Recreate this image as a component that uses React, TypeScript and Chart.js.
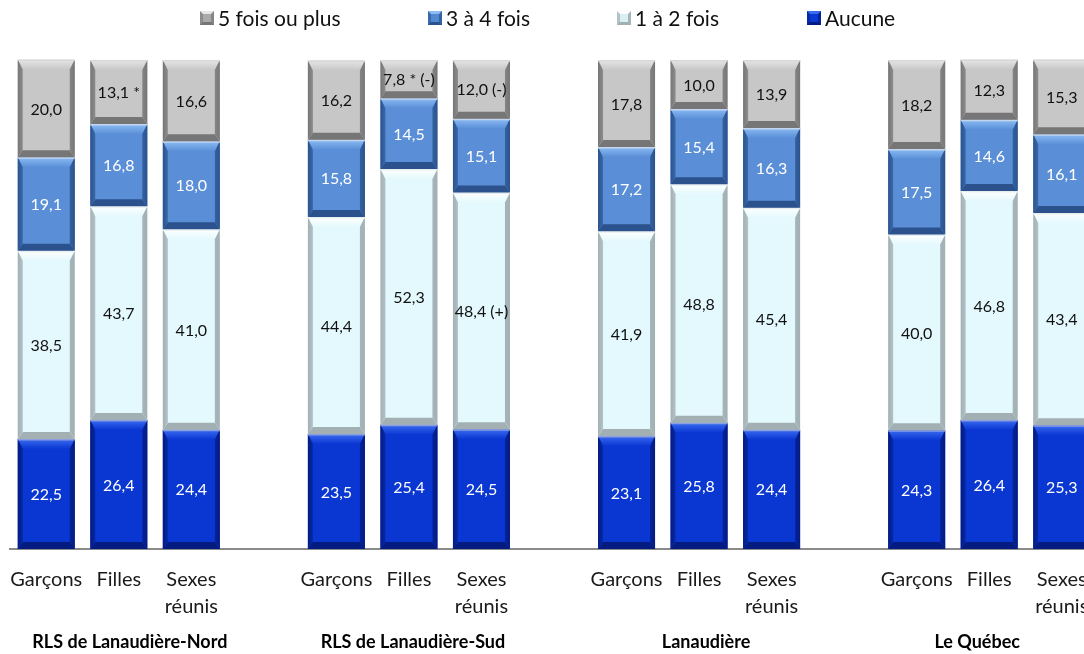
import React, { useEffect, useRef } from 'react';
import { Chart, registerables } from 'chart.js';
Chart.register(...registerables);

// ---------- DATA ----------
const groups = ['RLS de Lanaudière-Nord', 'RLS de Lanaudière-Sud', 'Lanaudière', 'Le Québec'];
const sexes: string[][] = [['Garçons'], ['Filles'], ['Sexes', 'réunis']];

const seriesNames = ['Aucune', '1 à 2 fois', '3 à 4 fois', '5 fois ou plus'];
const aucune = [22.5, 26.4, 24.4, 23.5, 25.4, 24.5, 23.1, 25.8, 24.4, 24.3, 26.4, 25.3];
const unADeux = [38.5, 43.7, 41.0, 44.4, 52.3, 48.4, 41.9, 48.8, 45.4, 40.0, 46.8, 43.4];
const troisAQuatre = [19.1, 16.8, 18.0, 15.8, 14.5, 15.1, 17.2, 15.4, 16.3, 17.5, 14.6, 16.1];
const cinqPlus = [20.0, 13.1, 16.6, 16.2, 7.8, 12.0, 17.8, 10.0, 13.9, 18.2, 12.3, 15.3];

const aucuneNotes = ['', '', '', '', '', '', '', '', '', '', '', ''];
const unADeuxNotes = ['', '', '', '', '', ' (+)', '', '', '', '', '', ''];
const troisAQuatreNotes = ['', '', '', '', '', '', '', '', '', '', '', ''];
const cinqPlusNotes = ['', ' *', '', '', ' * (-)', ' (-)', '', '', '', '', '', ''];

// ---------- STYLES ----------
const seriesStyles = [
  { face: '#0a36d2', top: '#3a6cf0', left: '#0629a6', right: '#05239a', bottom: '#041b80', edge: '#8a9ee0', text: '#ffffff', legend: '#0b37d3' },
  { face: '#e4f9fd', top: '#ffffff', left: '#b3c2c6', right: '#a6b5b9', bottom: '#a2b0b4', edge: '#e8eef0', text: '#111111', legend: '#d8eff3' },
  { face: '#5a8fd8', top: '#8cbcf4', left: '#3a69aa', right: '#3562a0', bottom: '#2b528c', edge: '#c4d6ee', text: '#ffffff', legend: '#5088d2' },
  { face: '#c7c7c7', top: '#e6e6e6', left: '#8c8c8c', right: '#858585', bottom: '#767676', edge: '#d6d9dc', text: '#111111', legend: '#a9a9a9' },
];
const legendLefts = [200, 428, 617, 807];
const groupLabelShift = [11, 4, 7, -12];
const FONT = 'Lato';

function buildSlots<T>(values: T[], gap: T): T[] {
  const out: T[] = [];
  groups.forEach((_, g) => {
    sexes.forEach((__, s) => out.push(values[g * sexes.length + s]));
    if (g < groups.length - 1) out.push(gap);
  });
  return out;
}

const fmt = (v: number) => v.toFixed(1).replace('.', ',');

function poly(ctx: CanvasRenderingContext2D, pts: number[][], color: any) {
  ctx.beginPath();
  ctx.moveTo(pts[0][0], pts[0][1]);
  for (let i = 1; i < pts.length; i++) ctx.lineTo(pts[i][0], pts[i][1]);
  ctx.closePath();
  ctx.fillStyle = color;
  ctx.fill();
}

export default function App() {
  const ref = useRef<HTMLCanvasElement | null>(null);

  useEffect(() => {
    document.body.style.margin = '0';
    document.body.style.overflow = 'hidden';
    document.documentElement.style.overflow = 'hidden';
    const canvas = ref.current;
    if (!canvas) return;

    const seriesValues = [aucune, unADeux, troisAQuatre, cinqPlus];
    const seriesNotes = [aucuneNotes, unADeuxNotes, troisAQuatreNotes, cinqPlusNotes];

    const tickLabels = buildSlots<string[] | string>(groups.flatMap(() => sexes), '');
    const groupSlotLabels = buildSlots<string>(groups.flatMap((g) => sexes.map((_, s) => (s === 1 ? g : ''))), '');
    const groupSlotShift = buildSlots<number>(groups.flatMap((_, gi) => sexes.map(() => groupLabelShift[gi])), 0);

    const datasets = seriesValues.map((vals, i) => ({
      label: seriesNames[i],
      data: buildSlots<number | null>(vals, null),
      backgroundColor: seriesStyles[i].face,
      borderWidth: 0,
      barPercentage: 0.786,
      categoryPercentage: 1,
    }));
    const notesSlots = seriesNotes.map((n) => buildSlots<string>(n, ''));

    const bevelPlugin = {
      id: 'bevelLabels',
      afterDatasetsDraw(chart: any) {
        const ctx: CanvasRenderingContext2D = chart.ctx;
        ctx.save();
        chart.data.datasets.forEach((ds: any, di: number) => {
          const meta = chart.getDatasetMeta(di);
          const st = seriesStyles[di];
          meta.data.forEach((el: any, i: number) => {
            if (ds.data[i] == null) return;
            const { x, y, base, width } = el.getProps(['x', 'y', 'base', 'width'], true);
            const L = x - width / 2, R = x + width / 2;
            const T = Math.min(y, base), B = Math.max(y, base);
            const bt = Math.min(10, (B - T) / 3);
            const bb = Math.min(7, (B - T) / 4);
            const bx = 5;
            const gTop = ctx.createLinearGradient(0, T, 0, T + bt);
            gTop.addColorStop(0, st.top);
            gTop.addColorStop(1, st.face);
            poly(ctx, [[L, T], [R, T], [R - bx, T + bt], [L + bx, T + bt]], gTop);
            poly(ctx, [[L, B], [R, B], [R - bx, B - bb], [L + bx, B - bb]], st.bottom);
            const gL = ctx.createLinearGradient(L, 0, L + bx, 0);
            gL.addColorStop(0, st.bottom);
            gL.addColorStop(1, st.left);
            poly(ctx, [[L, T], [L + bx, T + bt], [L + bx, B - bb], [L, B]], gL);
            const gR = ctx.createLinearGradient(R - bx, 0, R, 0);
            gR.addColorStop(0, st.right);
            gR.addColorStop(1, st.bottom);
            poly(ctx, [[R, T], [R - bx, T + bt], [R - bx, B - bb], [R, B]], gR);
            ctx.strokeStyle = st.edge;
            ctx.lineWidth = 1.5;
            ctx.beginPath();
            ctx.moveTo(L, T + 0.75);
            ctx.lineTo(R, T + 0.75);
            ctx.stroke();
          });
        });
        ctx.font = `16px ${FONT}`;
        ctx.textAlign = 'center';
        ctx.textBaseline = 'middle';
        chart.data.datasets.forEach((ds: any, di: number) => {
          const meta = chart.getDatasetMeta(di);
          meta.data.forEach((el: any, i: number) => {
            const v = ds.data[i];
            if (v == null) return;
            const { x, y, base } = el.getProps(['x', 'y', 'base'], true);
            ctx.fillStyle = seriesStyles[di].text;
            ctx.fillText(fmt(v) + notesSlots[di][i], x, (y + base) / 2 + 1);
          });
        });
        // group labels under the category ticks, near the middle bar of each group
        const xs = chart.scales.x;
        ctx.font = `bold 18px ${FONT}`;
        ctx.fillStyle = '#000000';
        groupSlotLabels.forEach((g, i) => {
          if (!g) return;
          ctx.fillText(g, xs.getPixelForValue(i) + groupSlotShift[i], xs.bottom + 5);
        });
        ctx.restore();
      },
    };

    const chart = new Chart(canvas, {
      type: 'bar',
      data: { labels: tickLabels as any, datasets },
      options: {
        animation: false,
        responsive: false,
        maintainAspectRatio: false,
        layout: { padding: { top: 60, left: 10, right: 2, bottom: 17 } },
        plugins: { legend: { display: false }, tooltip: { enabled: false } },
        scales: {
          x: {
            stacked: true,
            offset: true,
            grid: { display: false, drawTicks: false },
            border: { display: true, color: '#8a8a8a', width: 2 },
            afterFit: (scale: any) => {
              scale.paddingLeft = 0;
              scale.paddingRight = 0;
            },
            ticks: {
              autoSkip: false,
              maxRotation: 0,
              padding: 17,
              color: '#1a1a1a',
              font: { family: FONT, size: 20, lineHeight: 1.35 },
            },
          },
          y: {
            stacked: true,
            display: false,
            min: 0,
            max: 100,
          },
        },
      },
      plugins: [bevelPlugin],
    });
    return () => chart.destroy();
  }, []);

  const legendOrder = [3, 2, 1, 0];

  return (
    <div style={{ position: 'relative', width: 1084, height: 654, overflow: 'hidden', background: '#fff' }}>
      <canvas ref={ref} width={1100} height={654} style={{ position: 'absolute', left: 0, top: 0 }} />
      {legendOrder.map((si, k) => {
        const st = seriesStyles[si];
        return (
          <div
            key={si}
            style={{
              position: 'absolute',
              left: legendLefts[k],
              top: 5,
              display: 'flex',
              alignItems: 'center',
              fontFamily: FONT,
              fontSize: 21,
              color: '#111',
              whiteSpace: 'nowrap',
              lineHeight: '26px',
            }}
          >
            <span
              style={{
                display: 'inline-block',
                width: 8,
                height: 8,
                background: st.legend,
                borderStyle: 'solid',
                borderWidth: 3,
                borderColor: `${st.top} ${st.right} ${st.bottom} ${st.left}`,
                marginRight: 4,
              }}
            />
            <span>{seriesNames[si]}</span>
          </div>
        );
      })}
    </div>
  );
}
